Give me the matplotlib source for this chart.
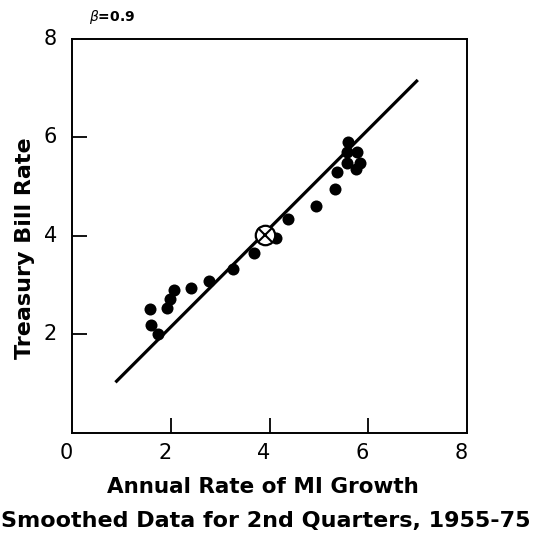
import matplotlib
matplotlib.use("Agg")
import matplotlib.pyplot as plt
import numpy as np

# Data
growth = [1.57, 1.60, 1.75, 1.92, 1.99, 2.07, 2.41, 2.78, 3.26, 3.69, 4.13, 4.37,
          4.94, 5.33, 5.37, 5.57, 5.59, 5.77, 5.84, 5.74, 5.57]
tbill = [2.51, 2.18, 2.01, 2.53, 2.72, 2.89, 2.94, 3.08, 3.33, 3.64, 3.96, 4.34,
         4.60, 4.95, 5.29, 5.47, 5.90, 5.70, 5.47, 5.36, 5.70]
mean_point = (3.90, 4.02)
fit_x = [0.88, 7.0]
fit_y = [1.02, 7.16]
xticks = [0, 2, 4, 6, 8]
yticks = [2, 4, 6, 8]

plt.rcParams['font.family'] = ['DejaVu Sans']
fig = plt.figure(figsize=(5.37, 5.36), dpi=100)
ax = fig.add_axes([0.134, 0.193, 0.736, 0.735])

ax.plot(fit_x, fit_y, color='black', lw=2.3, solid_capstyle='butt', zorder=2)
ax.scatter(growth, tbill, s=75, color='black', zorder=3, linewidths=0)
ax.plot([mean_point[0]], [mean_point[1]], marker='o', ms=14, mfc='white', mec='black', mew=1.6, zorder=4)
ax.plot([mean_point[0]], [mean_point[1]], marker='x', ms=14 / np.sqrt(2), mec='black', mew=1.5, zorder=5)

ax.set_xlim(0, 8)
ax.set_ylim(0, 8)
ax.set_xticks([2, 4, 6])
ax.set_yticks([2, 4, 6])
ax.set_xticklabels([])
ax.set_yticklabels([])
ax.tick_params(direction='in', length=11, width=1.3, top=False, right=False)
for sp in ax.spines.values():
    sp.set_linewidth(1.4)

# tick labels placed in data coordinates
for v in xticks:
    ax.text(v - 0.12, -0.22, str(v), ha='center', va='top', fontsize=15, transform=ax.transData,
            clip_on=False)
for v in yticks:
    ax.text(-0.3, v, str(v), ha='right', va='center', fontsize=15, transform=ax.transData,
            clip_on=False)

fig.text(0.047, 0.537, 'Treasury Bill Rate', rotation=90, ha='center', va='center',
         fontsize=16, fontweight='bold')
fig.text(0.49, 0.092, 'Annual Rate of MI Growth', ha='center', va='center', fontsize=15.5, fontweight='bold')
fig.text(0.495, 0.028, 'Smoothed Data for 2nd Quarters, 1955-75', ha='center', va='center', fontsize=16, fontweight='bold')
fig.text(0.165, 0.968, r'$\beta$=0.9', ha='left', va='center', fontsize=10, fontweight='bold')

fig.savefig('out.png', dpi=100)
